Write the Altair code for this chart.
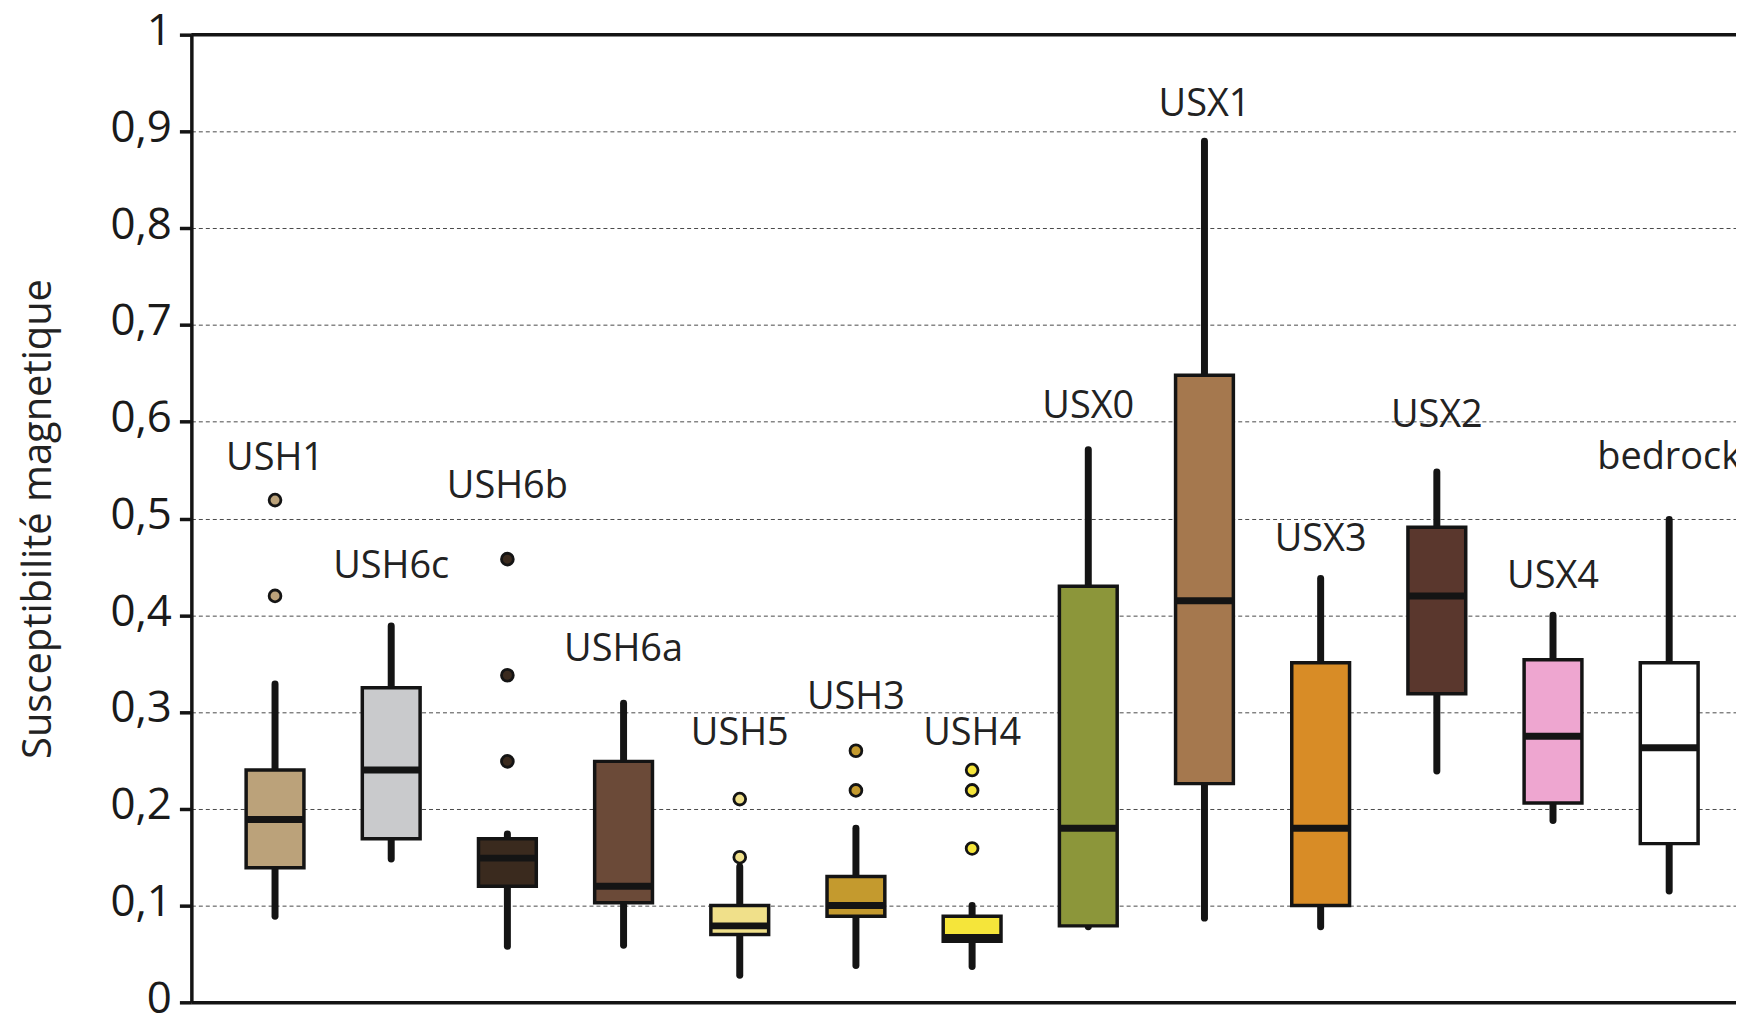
import altair as alt
import pandas as pd

units = ["USH1", "USH6c", "USH6b", "USH6a", "USH5", "USH3", "USH4",
         "USX0", "USX1", "USX3", "USX2", "USX4", "bedrock"]
whisker_low = [0.089, 0.148, 0.058, 0.059, 0.028, 0.038, 0.037, 0.078, 0.087, 0.078, 0.239, 0.188, 0.115]
q1 = [0.139, 0.169, 0.120, 0.103, 0.070, 0.089, 0.063, 0.079, 0.226, 0.100, 0.319, 0.206, 0.164]
median = [0.189, 0.240, 0.149, 0.120, 0.079, 0.100, 0.067, 0.180, 0.415, 0.180, 0.420, 0.275, 0.263]
q3 = [0.240, 0.325, 0.169, 0.249, 0.100, 0.130, 0.089, 0.430, 0.648, 0.351, 0.491, 0.354, 0.351]
whisker_high = [0.329, 0.389, 0.174, 0.309, 0.140, 0.180, 0.100, 0.571, 0.890, 0.438, 0.548, 0.400, 0.499]
fill_colors = ["#bba27a", "#c9cacc", "#3a2a1e", "#6b4a38", "#f0e08a", "#c49a2e", "#f5e53a",
               "#8c963a", "#a5784e", "#d88c26", "#5a372d", "#eea6d0", "#ffffff"]
label_y = [0.561, 0.450, 0.533, 0.364, 0.277, 0.314, 0.277, 0.615, 0.927, 0.478, 0.606, 0.439, 0.562]

outlier_unit = ["USH1", "USH1", "USH6b", "USH6b", "USH6b", "USH5", "USH5",
                "USH3", "USH3", "USH4", "USH4", "USH4"]
outlier_value = [0.519, 0.420, 0.458, 0.338, 0.249, 0.210, 0.150, 0.260, 0.219, 0.240, 0.219, 0.159]

y_ticks = [0, 0.1, 0.2, 0.3, 0.4, 0.5, 0.6, 0.7, 0.8, 0.9, 1]

boxes = pd.DataFrame({"unit": units, "lo": whisker_low, "q1": q1, "med": median,
                      "q3": q3, "hi": whisker_high, "ly": label_y})
outliers = pd.DataFrame({"unit": outlier_unit, "v": outlier_value})

FONT = "Open Sans"
INK = "#141414"

x_enc = alt.X("unit:N", sort=units,
              scale=alt.Scale(type="point", domain=units, padding=0.6476, align=0.556),
              axis=alt.Axis(labels=False, ticks=False, title=None, grid=False,
                            domainColor=INK, domainWidth=3.5))
color_scale = alt.Scale(domain=units, range=fill_colors)

base = alt.Chart(boxes)

whiskers = base.mark_rule(strokeWidth=7, strokeCap="round", color=INK, opacity=1).encode(
    x=x_enc,
    y=alt.Y("lo:Q", scale=alt.Scale(domain=[0, 1], nice=False),
            axis=alt.Axis(values=y_ticks,
                          labelExpr="datum.value == 0 ? '0' : datum.value == 1 ? '1' : replace(format(datum.value, '.1f'), '.', ',')",
                          title="Susceptibilité magnetique", titleFont=FONT, titleFontSize=40,
                          titleFontWeight="normal", titleColor="#222", titlePadding=52,
                          labelFont=FONT, labelFontSize=44, labelColor="#1a1a1a", labelPadding=8,
                          labelBaseline="middle", labelOffset=-3,
                          tickSize=12, tickWidth=3.5, tickColor=INK,
                          domainColor=INK, domainWidth=3.5,
                          grid=True, gridDash=[4, 3], gridColor="#4a4a4a", gridWidth=1)),
    y2="hi:Q",
)

box = base.mark_bar(size=58, stroke=INK, strokeWidth=3.5, opacity=1).encode(
    x=x_enc,
    y="q1:Q",
    y2="q3:Q",
    color=alt.Color("unit:N", scale=color_scale, legend=None),
)

med = base.mark_tick(size=57, thickness=7, color=INK, opacity=1).encode(
    x=x_enc,
    y="med:Q",
)

pts = alt.Chart(outliers).mark_circle(size=140, stroke=INK, strokeWidth=2.8, opacity=1).encode(
    x=x_enc,
    y="v:Q",
    color=alt.Color("unit:N", scale=color_scale, legend=None),
)

labels = base.mark_text(font=FONT, fontSize=38, color="#222").encode(
    x=x_enc,
    y="ly:Q",
    text="unit:N",
)

top_line = alt.Chart(pd.DataFrame({"t": [1]})).mark_rule(color=INK, strokeWidth=3.5).encode(
    y=alt.Y("t:Q"),
)

chart = alt.layer(whiskers, box, med, pts, labels, top_line).properties(
    width=1550, height=971,
    padding={"left": 184, "top": 25, "right": 0, "bottom": 22},
    autosize=alt.AutoSizeParams(type="none"),
    background="white",
).configure_view(strokeWidth=0)

chart.save("out.html", embed_options={"renderer": "svg", "actions": False})
